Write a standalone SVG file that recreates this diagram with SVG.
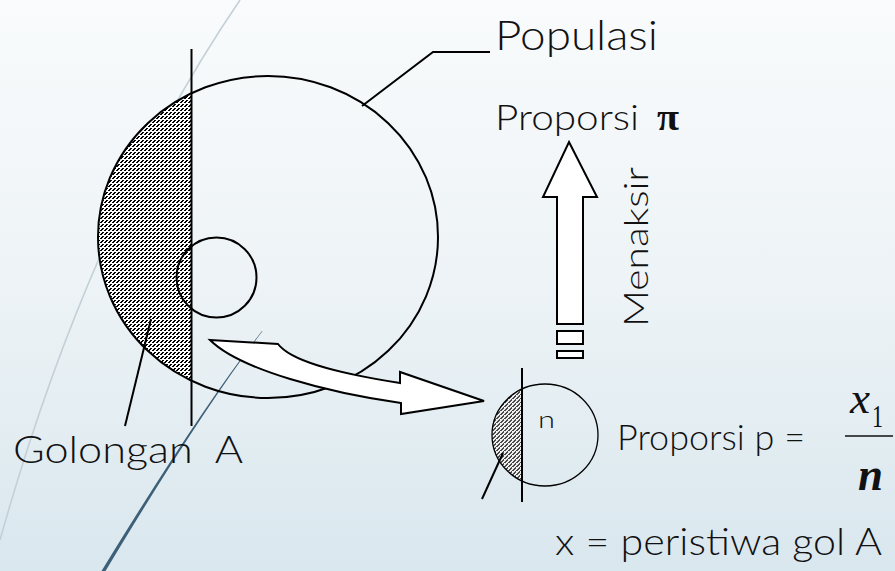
<svg xmlns="http://www.w3.org/2000/svg" width="895" height="571" viewBox="0 0 895 571">
<style>
.ln{fill:none;stroke:#000;stroke-width:2}
.t{font-family:Lato,"Open Sans","Liberation Sans",sans-serif;font-weight:300;fill:#111}
.shape{fill:#fff;stroke:#000;stroke-width:2;stroke-linejoin:miter}
.px{fill:#000}
</style>
<defs>
<linearGradient id="bg" x1="0" y1="0" x2="0" y2="1">
<stop offset="0" stop-color="#f9fbfc"/>
<stop offset="0.5" stop-color="#edf3f6"/>
<stop offset="1" stop-color="#d9e7ee"/>
</linearGradient>
<pattern id="hatch" patternUnits="userSpaceOnUse" x="0" y="0" width="4" height="4">
<rect width="4" height="4" fill="#fff"/>
<rect class="px" x="2" y="0" width="2" height="1"/>
<rect class="px" x="1" y="1" width="2" height="1"/>
<rect class="px" x="0" y="2" width="2" height="1"/>
</pattern>
<pattern id="hatch2" patternUnits="userSpaceOnUse" x="0" y="0" width="4" height="4">
<rect width="4" height="4" fill="#eeeeee"/>
<rect fill="#4a4a4a" x="2" y="0" width="2" height="1"/>
<rect fill="#4a4a4a" x="1" y="1" width="2" height="1"/>
<rect fill="#4a4a4a" x="0" y="2" width="2" height="1"/>
<rect fill="#4a4a4a" x="3" y="3" width="1" height="1"/>
</pattern>
</defs>
<rect width="895" height="571" fill="url(#bg)"/>
<path d="M240,0 Q90,220 0,540" fill="none" stroke="#c3d0d8" stroke-width="1.6"/>
<path d="M262,331 Q200,410 101.5,571 L105.5,571 Q201.5,411 262.6,331 Z" fill="#3d5f77"/>

<g id="populasi">
<path d="M191.5,93.2 A170,161 0 0,0 191.5,380.8 Z" fill="url(#hatch)"/>
<ellipse cx="268" cy="237" rx="170" ry="161" class="ln"/>
<line x1="191.5" y1="49" x2="191.5" y2="426" class="ln"/>
<circle cx="216.5" cy="277.5" r="40" class="ln"/>
<polyline points="362,106 433,52 490,52" class="ln"/>
<text class="t" x="495" y="50" font-size="42" textLength="163" lengthAdjust="spacingAndGlyphs">Populasi</text>
</g>

<g id="golongan">
<line x1="125" y1="426" x2="151" y2="319" class="ln"/>
<text class="t" x="13" y="463" font-size="38" textLength="230" lengthAdjust="spacingAndGlyphs" style="white-space:pre">Golongan  A</text>
</g>

<g id="proporsi-pi">
<text class="t" x="495" y="130" font-size="36" textLength="144" lengthAdjust="spacingAndGlyphs">Proporsi</text>
<text x="657" y="130" font-family="'Liberation Serif','DejaVu Serif',serif" font-weight="bold" font-size="38" fill="#111" textLength="22" lengthAdjust="spacingAndGlyphs">π</text>
</g>

<g id="sampel">
<path d="M522,389 A53,51 0 0,0 522,481 Z" fill="url(#hatch2)"/>
<ellipse cx="545" cy="435" rx="53" ry="51" fill="none" stroke="#000" stroke-width="1.3"/>
<line x1="522" y1="368" x2="522" y2="502" class="ln"/>
<line x1="482" y1="499" x2="503" y2="453" class="ln"/>
<text class="t" x="538" y="428" font-size="24" textLength="17" lengthAdjust="spacingAndGlyphs">n</text>
</g>

<g id="proporsi-p">
<text class="t" x="617" y="450" font-size="36" textLength="188" lengthAdjust="spacingAndGlyphs">Proporsi p =</text>
<text x="850" y="413" font-family="'Liberation Serif','DejaVu Serif',serif" font-style="italic" font-size="44" fill="#111" textLength="20" lengthAdjust="spacingAndGlyphs">x</text>
<text x="872" y="427" font-family="'Liberation Serif','DejaVu Serif',serif" font-size="32" fill="#111" textLength="11" lengthAdjust="spacingAndGlyphs">1</text>
<line x1="845" y1="436" x2="893" y2="436" stroke="#111" stroke-width="1.6"/>
<text x="858" y="490" font-family="'Liberation Serif','DejaVu Serif',serif" font-style="italic" font-weight="bold" font-size="46" fill="#111" textLength="25" lengthAdjust="spacingAndGlyphs">n</text>
</g>

<g id="keterangan">
<text class="t" x="555" y="555" font-size="38" textLength="327" lengthAdjust="spacingAndGlyphs">x = peristiwa gol A</text>
</g>

<g id="connectors">
<path class="shape" d="M210,340 L278,344 C290,360 330,372 400,383 L400,372 L484,401 L401,414 L401,403 C330,393 240,370 210,340 Z"/>
<polygon class="shape" points="569,142 597,197 583,197 583,324 557,324 557,197 543,197"/>
<rect class="shape" x="557" y="331" width="26" height="13"/>
<rect class="shape" x="557" y="351" width="26" height="7"/>
<text class="t" transform="translate(648,327) rotate(-90)" x="0" y="0" font-size="33" textLength="160" lengthAdjust="spacingAndGlyphs">Menaksir</text>
</g>
</svg>
